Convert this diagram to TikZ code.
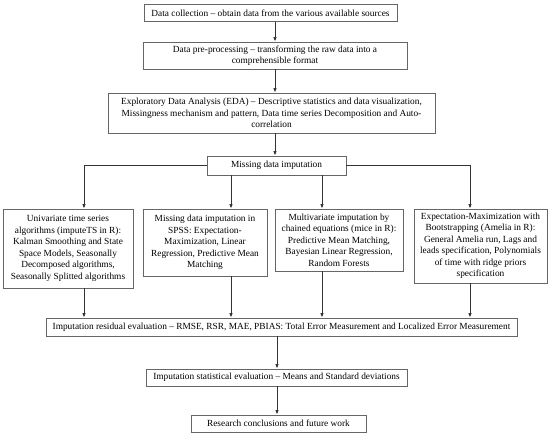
\documentclass[tikz,border=0pt]{standalone}
\usepackage{fontspec}
\setmainfont{Liberation Serif}
\usepackage{tikz}
\usetikzlibrary{positioning, calc, arrows.meta}

\begin{document}
\begin{tikzpicture}[x = 1pt, y = -1pt]
\begin{scope}[
	box/.style={
		draw=black!60, line width=0.7pt, fill=white, align=center,
		inner sep=1pt, font=\fontsize{9.35}{11.5}\selectfont
	},
	flow/.style={
		-{Latex[length=4.5pt, width=3.5pt]}, line width=0.85pt, draw=black!80
	}
]
\useasboundingbox (0, 0) rectangle (550, 435);
% main column
\node[box, minimum width=253, minimum height=17] (collect) at (270.5, 13) {Data collection -- obtain data from the various available sources};
\node[box, minimum width=264, minimum height=27] (prep) at (275, 55.5) {Data pre-processing -- transforming the raw data into a\\comprehensible format};
\node[box, minimum width=327, minimum height=40] (eda) at (271.5, 113) {Exploratory Data Analysis (EDA) -- Descriptive statistics and data visualization,\\Missingness mechanism and pattern, Data time series Decomposition and Auto-\\correlation};
\node[box, minimum width=139, minimum height=19] (missing) at (276.5, 165.5) {Missing data imputation};
% four methods
\node[box, minimum width=130, minimum height=79] (uni) at (68, 248.5) {Univariate time series\\algorithms (imputeTS in R):\\Kalman Smoothing and State\\Space Models, Seasonally\\Decomposed algorithms,\\Seasonally Splitted algorithms};
\node[box, minimum width=124, minimum height=67] (spss) at (205, 242.5) {Missing data imputation in\\SPSS: Expectation-\\Maximization, Linear\\Regression, Predictive Mean\\Matching};
\node[box, minimum width=128, minimum height=62] (mice) at (339, 240) {Multivariate imputation by\\chained equations (mice in R):\\Predictive Mean Matching,\\Bayesian Linear Regression,\\Random Forests};
\node[box, minimum width=133, minimum height=74] (amelia) at (480.5, 246) {Expectation-Maximization with\\Bootstrapping (Amelia in R):\\General Amelia run, Lags and\\leads specification, Polynomials\\of time with ridge priors\\specification};
% evaluation
\node[box, minimum width=471, minimum height=18] (resid) at (281.5, 327) {Imputation residual evaluation -- RMSE, RSR, MAE, PBIAS: Total Error Measurement and Localized Error Measurement};
\node[box, minimum width=261, minimum height=17] (stat) at (276.5, 377.5) {Imputation statistical evaluation -- Means and Standard deviations};
\node[box, minimum width=175, minimum height=17] (concl) at (278.5, 423.5) {Research conclusions and future work};

\coordinate (axis) at (275, 0);
\coordinate (low) at (277, 0);
\draw[flow] (collect.south -| axis) -- (prep.north -| axis);
\draw[flow] (prep.south -| axis) -- (eda.north -| axis);
\draw[flow] (eda.south -| axis) -- (missing.north -| axis);

\coordinate (col-uni) at (84, 0);
\coordinate (col-spss) at (231, 0);
\coordinate (col-mice) at (322, 0);
\coordinate (col-amelia) at (470, 0);
\draw[flow] (missing.west) -| (uni.north -| col-uni);
\draw[flow] (missing.east) -| (amelia.north -| col-amelia);
\draw[flow] (missing.south -| col-spss) -- (spss.north -| col-spss);
\draw[flow] (missing.south -| col-mice) -- (mice.north -| col-mice);
\foreach \m in {uni, spss, mice, amelia} {
	\draw[flow] (\m.south -| col-\m) -- (resid.north -| col-\m);
}
\draw[flow] (resid.south -| low) -- (stat.north -| low);
\draw[flow] (stat.south -| low) -- (concl.north -| low);
\end{scope}
\end{tikzpicture}
\end{document}
